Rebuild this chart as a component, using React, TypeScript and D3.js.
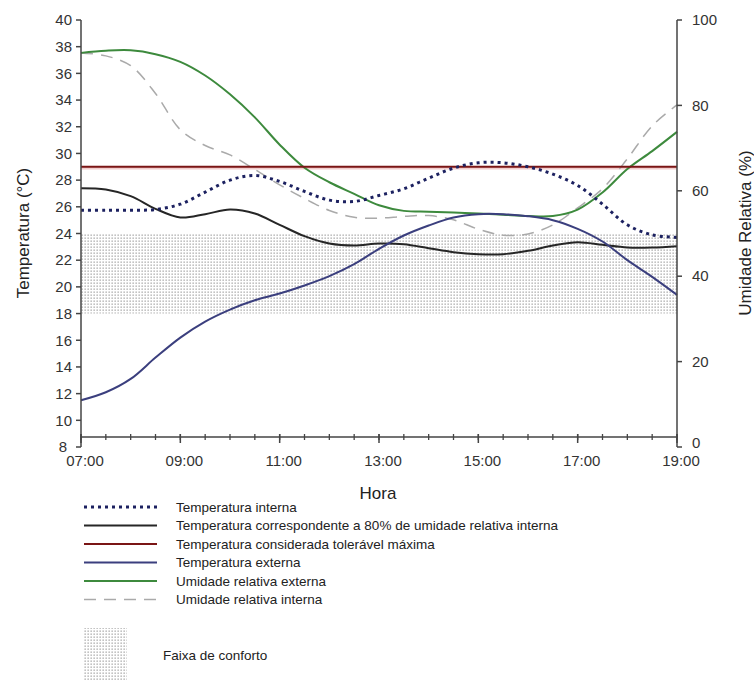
import React from 'react';
import * as d3 from 'd3';

const hours = [7, 7.5, 8, 8.5, 9, 9.5, 10, 10.5, 11, 11.5, 12, 12.5, 13, 13.5, 14, 14.5, 15, 15.5, 16, 16.5, 17, 17.5, 18, 18.5, 19];
const tempInterna = [25.75, 25.75, 25.75, 25.8, 26.2, 27.1, 28.0, 28.35, 27.9, 27.15, 26.5, 26.4, 26.85, 27.35, 28.15, 28.9, 29.3, 29.3, 29.0, 28.45, 27.6, 26.2, 24.65, 23.9, 23.7];
const temp80 = [27.4, 27.3, 26.8, 25.85, 25.2, 25.45, 25.8, 25.5, 24.65, 23.8, 23.25, 23.1, 23.25, 23.2, 22.9, 22.6, 22.45, 22.45, 22.7, 23.1, 23.35, 23.15, 22.95, 22.95, 23.05];
const tempMaxTol = 29;
const tempExterna = [11.5, 12.1, 13.1, 14.7, 16.2, 17.4, 18.3, 19.0, 19.5, 20.1, 20.8, 21.7, 22.85, 23.85, 24.6, 25.2, 25.45, 25.45, 25.3, 25.0, 24.35, 23.4, 22.0, 20.75, 19.4];
const urExterna = [92.3, 92.8, 92.9, 92.0, 90.2, 87.0, 82.6, 77.2, 70.8, 65.4, 62.0, 59.3, 56.6, 55.3, 55.1, 54.9, 54.7, 54.4, 54.1, 54.1, 55.6, 59.6, 65.1, 69.3, 73.8];
const urInterna = [92.3, 91.6, 89.3, 82.8, 74.3, 70.6, 68.4, 65.0, 61.4, 58.2, 55.4, 53.8, 53.6, 54.0, 54.2, 53.2, 51.0, 49.6, 49.9, 52.0, 56.0, 60.5, 67.5, 75.2, 80.1];
const comfortRange = [18, 24];

const tempTicks = [8, 10, 12, 14, 16, 18, 20, 22, 24, 26, 28, 30, 32, 34, 36, 38, 40];
const urTicks = [0, 20, 40, 60, 80, 100];
const hourTicks = [7, 9, 11, 13, 15, 17, 19];
const hourLabels = ['07:00', '09:00', '11:00', '13:00', '15:00', '17:00', '19:00'];
const minorHourTicks = d3.range(7, 19.01, 0.5);

const legendLabels = [
  'Temperatura interna',
  'Temperatura correspondente a 80% de umidade relativa interna',
  'Temperatura considerada tolerável máxima',
  'Temperatura externa',
  'Umidade relativa externa',
  'Umidade relativa interna',
];
const comfortLabel = 'Faixa de conforto';

const FONT = '"Liberation Sans", Arial, sans-serif';

const styles = [
  { stroke: '#1c2160', width: 3, dash: '3 4' },
  { stroke: '#262626', width: 2, dash: '' },
  { stroke: '#7a1515', width: 2, dash: '' },
  { stroke: '#3b3f7e', width: 2, dash: '' },
  { stroke: '#3d8a3d', width: 2, dash: '' },
  { stroke: '#aaaaaa', width: 1.5, dash: '12 8' },
];

export default function App() {
  const W = 754;
  const H = 692;
  const x0 = 81;
  const x1 = 677;
  const yTop = 20;
  const yBot = 447;
  const xAxisY = 437;

  const x = d3.scaleLinear().domain([7, 19]).range([x0, x1]);
  const yT = d3.scaleLinear().domain([8, 40]).range([yBot, yTop]);
  const yH = d3.scaleLinear().domain([0, 100]).range([yBot, yTop]);

  const lineT = (vals: number[]) =>
    d3.line<number>().x((_, i) => x(hours[i])).y((d) => yT(d)).curve(d3.curveCatmullRom.alpha(0.5))(vals) || '';
  const lineH = (vals: number[]) =>
    d3.line<number>().x((_, i) => x(hours[i])).y((d) => yH(d)).curve(d3.curveCatmullRom.alpha(0.5))(vals) || '';

  const series = [
    lineT(tempInterna),
    lineT(temp80),
    `M${x0},${yT(tempMaxTol)}L${x1},${yT(tempMaxTol)}`,
    lineT(tempExterna),
    lineH(urExterna),
    lineH(urInterna),
  ];
  const drawOrder = [5, 4, 1, 3, 2, 0];

  const legendX0 = 84;
  const legendX1 = 157;
  const legendTextX = 176;
  const legendY0 = 507;
  const legendDy = 18.5;

  const axisColor = '#444';
  const textColor = '#333';

  return (
    <svg width={W} height={H} style={{ position: 'absolute', left: 0, top: 0, background: '#fff' }} fontFamily={FONT}>
      <defs>
        <pattern id="dots" width="3" height="3" patternUnits="userSpaceOnUse">
          <rect x="0.5" y="0.5" width="1.3" height="1.3" fill="#8a8a8a" />
        </pattern>
      </defs>
      <rect x={0} y={0} width={W} height={H} fill="#fff" />

      {/* comfort band */}
      <rect
        x={x0}
        y={yT(comfortRange[1])}
        width={x1 - x0}
        height={yT(comfortRange[0]) - yT(comfortRange[1])}
        fill="url(#dots)"
        opacity={0.8}
      />

      {/* series */}
      <path d={series[2]} fill="none" stroke="#f2cccc" strokeWidth={3.5} transform="translate(0,1)" />
      {drawOrder.map((i) => (
        <path
          key={i}
          d={series[i]}
          fill="none"
          stroke={styles[i].stroke}
          strokeWidth={styles[i].width}
          strokeDasharray={styles[i].dash || undefined}
        />
      ))}

      {/* left axis */}
      <line x1={x0} x2={x0} y1={yTop} y2={yBot} stroke={axisColor} strokeWidth={1.5} />
      {tempTicks.map((t) => (
        <g key={t}>
          <line x1={x0 - 5} x2={x0} y1={yT(t)} y2={yT(t)} stroke={axisColor} strokeWidth={1.5} />
          <text x={t === 8 ? x0 - 14 : x0 - 9} y={yT(t)} dy="0.35em" textAnchor="end" fontSize={15} fill={textColor}>
            {t}
          </text>
        </g>
      ))}

      {/* right axis */}
      <line x1={x1} x2={x1} y1={yTop} y2={yBot} stroke={axisColor} strokeWidth={1.5} />
      {urTicks.map((t) => (
        <g key={t}>
          <line x1={x1} x2={x1 + 5} y1={yH(t)} y2={yH(t)} stroke={axisColor} strokeWidth={1.5} />
          <text x={x1 + 15} y={t === 0 ? yH(t) - 4 : yH(t)} dy="0.35em" textAnchor="start" fontSize={15} fill={textColor}>
            {t}
          </text>
        </g>
      ))}

      {/* x axis */}
      <line x1={x0} x2={x1} y1={xAxisY} y2={xAxisY} stroke={axisColor} strokeWidth={1.5} />
      {minorHourTicks.map((h) => (
        <line key={h} x1={x(h)} x2={x(h)} y1={xAxisY - 3} y2={xAxisY + 3} stroke={axisColor} strokeWidth={1.3} />
      ))}
      {hourTicks.map((h, i) => (
        <g key={h}>
          <line x1={x(h)} x2={x(h)} y1={xAxisY - 3} y2={xAxisY + 6} stroke={axisColor} strokeWidth={1.5} />
          <text x={x(h) + 4} y={466} textAnchor="middle" fontSize={15} fill={textColor}>
            {hourLabels[i]}
          </text>
        </g>
      ))}

      {/* axis titles */}
      <text x={378} y={499} textAnchor="middle" fontSize={17} fill="#222">
        Hora
      </text>
      <text transform={`translate(29,233) rotate(-90)`} textAnchor="middle" fontSize={17} fill="#222">
        Temperatura (°C)
      </text>
      <text transform={`translate(751,233) rotate(-90)`} textAnchor="middle" fontSize={17} fill="#222">
        Umidade Relativa (%)
      </text>

      {/* legend */}
      {legendLabels.map((lab, i) => {
        const yy = legendY0 + i * legendDy;
        return (
          <g key={lab}>
            <line
              x1={legendX0}
              x2={legendX1}
              y1={yy}
              y2={yy}
              stroke={styles[i].stroke}
              strokeWidth={styles[i].width}
              strokeDasharray={styles[i].dash || undefined}
            />
            <text x={legendTextX} y={yy} dy="0.35em" fontSize={13.5} fill="#222">
              {lab}
            </text>
          </g>
        );
      })}
      <rect x={84} y={628} width={43} height={52} fill="url(#dots)" opacity={0.8} />
      <text x={163} y={655} dy="0.35em" fontSize={13.5} fill="#222">
        {comfortLabel}
      </text>
    </svg>
  );
}
